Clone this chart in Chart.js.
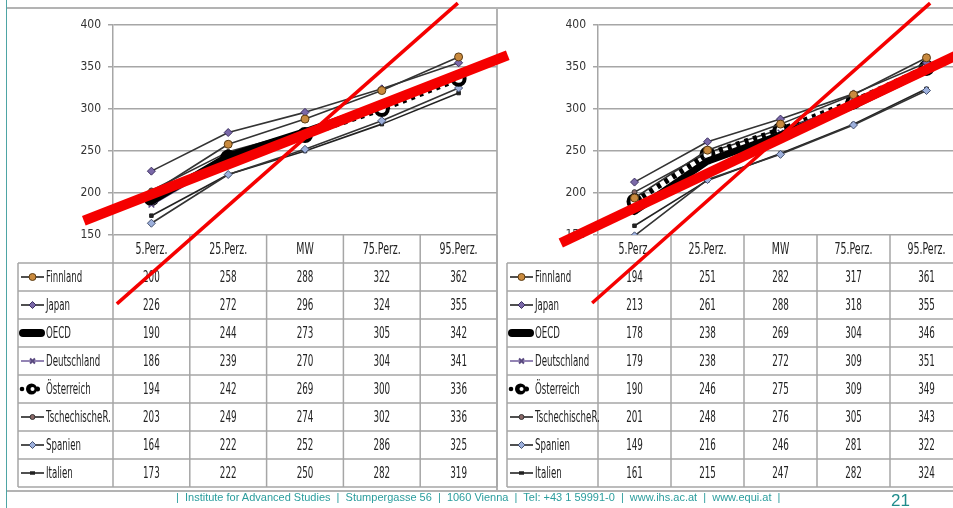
<!DOCTYPE html>
<html>
<head>
<meta charset="utf-8">
<script src="https://cdn.jsdelivr.net/npm/chart.js@4.4.1/dist/chart.umd.min.js"></script>
<style>
  html, body { margin: 0; padding: 0; background: #fff; overflow: hidden; }
  #page { position: relative; width: 953px; height: 508px; overflow: hidden; background: #fff; }
  canvas { position: absolute; top: 0; }
  #chartLeft { left: 0; z-index: 3; }
  #chartRight { left: 497px; z-index: 2; }
  .rule { position: absolute; background: #b3b3b3; z-index: 1; }
  #footer {
    position: absolute; left: 176px; top: 491px; z-index: 4;
    font: 11px "Liberation Sans Narrow", "Liberation Sans", Arial, sans-serif;
    color: #2a9d9d; white-space: pre;
  }
  #pageNo {
    position: absolute; left: 891px; top: 491px; z-index: 4;
    font: 17px "Liberation Sans", Arial, sans-serif; color: #1f8c8c;
  }
</style>
</head>
<body>
<div id="page">
  <div class="rule" style="left:7px;top:7px;width:946px;height:1.5px"></div>
  <div class="rule" style="left:6px;top:0;width:1px;height:508px;background:#4ea5a5"></div>
  <div class="rule" style="left:496px;top:7px;width:1.5px;height:485px"></div>
  <div class="rule" style="left:7px;top:490px;width:946px;height:1.5px"></div>
  <canvas id="chartLeft" width="520" height="508"></canvas>
  <canvas id="chartRight" width="480" height="508"></canvas>
  <div id="footer">|  Institute for Advanced Studies  |  Stumpergasse 56  |  1060 Vienna  |  Tel: +43 1 59991-0  |  www.ihs.ac.at  |  www.equi.at  |</div>
  <div id="pageNo">21</div>
</div>
<script>
// Categories and axis ticks
const categories = ['5.Perz.', '25.Perz.', 'MW', '75.Perz.', '95.Perz.'];
const yTicks = [150, 200, 250, 300, 350, 400];
const countries = ['Finnland', 'Japan', 'OECD', 'Deutschland', 'Österreich', 'TschechischeR.', 'Spanien', 'Italien'];

// Left panel scores
const finnlandA = [200, 258, 288, 322, 362];
const japanA = [226, 272, 296, 324, 355];
const oecdA = [190, 244, 273, 305, 342];
const deutschlandA = [186, 239, 270, 304, 341];
const oesterreichA = [194, 242, 269, 300, 336];
const tschechienA = [203, 249, 274, 302, 336];
const spanienA = [164, 222, 252, 286, 325];
const italienA = [173, 222, 250, 282, 319];

// Right panel scores
const finnlandB = [194, 251, 282, 317, 361];
const japanB = [213, 261, 288, 318, 355];
const oecdB = [178, 238, 269, 304, 346];
const deutschlandB = [179, 238, 272, 309, 351];
const oesterreichB = [190, 246, 275, 309, 349];
const tschechienB = [201, 248, 276, 305, 343];
const spanienB = [149, 216, 246, 281, 322];
const italienB = [161, 215, 247, 282, 324];

// Red trend strokes: [category position, score] at both ends
const trendSteepA = [[-0.45, 68], [3.99, 426]];
const trendFlatA = [[-0.88, 167], [4.64, 364]];
const trendSteepB = [[-0.58, 69], [4.05, 426]];
const trendFlatB = [[-1.01, 140.5], [4.6, 371.7]];

const FONT = '"Liberation Sans Narrow", "DejaVu Sans Condensed", "Liberation Sans", sans-serif';

const seriesStyle = [
  { line: '#333333', width: 1.6, point: 'circle', r: 4, fill: '#c98a3e', edge: '#5b3b12', edgeW: 1 },
  { line: '#333333', width: 1.6, point: 'diamond', r: 4, fill: '#7a68a8', edge: '#3b2f60', edgeW: 1 },
  { line: '#000000', width: 7, point: null, r: 0 },
  { line: '#6e5e94', width: 2, point: 'cross', r: 4, fill: '#6e5e94', edge: '#5a4a80', edgeW: 1.5 },
  { line: '#000000', width: 6, dash: [4, 5], point: 'circle', r: 6, fill: '#ffffff', edge: '#000000', edgeW: 4 },
  { line: '#333333', width: 1.6, point: 'circle', r: 2.5, fill: '#8a6868', edge: '#333333', edgeW: 1 },
  { line: '#333333', width: 1.6, point: 'diamond', r: 4, fill: '#9db0dc', edge: '#44506e', edgeW: 1 },
  { line: '#222222', width: 1.6, point: 'rect', r: 2.5, fill: '#222222', edge: '#222222', edgeW: 1 }
];

const chartPointStyle = { circle: 'circle', diamond: 'rectRot', cross: 'crossRot', rect: 'rect' };

// Condensed text: real canvas text, narrowed horizontally
function squeezedText(ctx, str, x, y, align, sx) {
  ctx.save();
  ctx.translate(x, y);
  ctx.scale(sx, 1);
  ctx.textAlign = align;
  ctx.textBaseline = 'middle';
  ctx.fillText(str, 0, 0);
  ctx.restore();
}

function drawMarker(ctx, style, cx, cy, r) {
  ctx.save();
  ctx.fillStyle = style.fill;
  ctx.strokeStyle = style.edge;
  ctx.lineWidth = style.edgeW || 1;
  ctx.beginPath();
  if (style.point === 'circle') {
    ctx.arc(cx, cy, r, 0, Math.PI * 2);
    ctx.fill(); ctx.stroke();
  } else if (style.point === 'diamond') {
    ctx.moveTo(cx, cy - r); ctx.lineTo(cx + r, cy); ctx.lineTo(cx, cy + r); ctx.lineTo(cx - r, cy); ctx.closePath();
    ctx.fill(); ctx.stroke();
  } else if (style.point === 'cross') {
    ctx.lineWidth = 2;
    ctx.moveTo(cx - r * 0.7, cy - r * 0.7); ctx.lineTo(cx + r * 0.7, cy + r * 0.7);
    ctx.moveTo(cx + r * 0.7, cy - r * 0.7); ctx.lineTo(cx - r * 0.7, cy + r * 0.7);
    ctx.stroke();
  } else if (style.point === 'rect') {
    ctx.rect(cx - r, cy - r * 0.7, r * 2, r * 1.4);
    ctx.fill();
  }
  ctx.restore();
}

function drawLegendKey(ctx, i, left, cy) {
  const s = seriesStyle[i];
  ctx.save();
  if (i === 2) {
    ctx.strokeStyle = '#000'; ctx.lineWidth = 8; ctx.lineCap = 'round';
    ctx.beginPath(); ctx.moveTo(left + 5, cy); ctx.lineTo(left + 23, cy); ctx.stroke();
  } else if (i === 4) {
    ctx.fillStyle = '#000';
    ctx.beginPath(); ctx.arc(left + 4, cy, 2.3, 0, Math.PI * 2); ctx.fill();
    ctx.beginPath(); ctx.arc(left + 13.5, cy, 5.5, 0, Math.PI * 2); ctx.fill();
    ctx.beginPath(); ctx.arc(left + 19.5, cy, 2.5, 0, Math.PI * 2); ctx.fill();
    ctx.fillStyle = '#fff';
    ctx.beginPath(); ctx.arc(left + 14.5, cy, 2, 0, Math.PI * 2); ctx.fill();
  } else {
    ctx.strokeStyle = i === 3 ? '#9384b4' : '#505050';
    ctx.lineWidth = 2;
    ctx.beginPath(); ctx.moveTo(left + 3, cy); ctx.lineTo(left + 26, cy); ctx.stroke();
    drawMarker(ctx, s, left + 14.5, cy, Math.min(s.r, 3.5));
  }
  ctx.restore();
}

// Data table under the plot: header row with categories, one row per country
const dataTablePlugin = {
  id: 'dataTable',
  afterDraw(chart, args, opts) {
    const { ctx, chartArea, scales: { x } } = chart;
    const rows = chart.data.datasets;
    const top = chartArea.bottom;
    const headH = 28, rowH = 28;
    const bottom = top + headH + rows.length * rowH;
    const legLeft = chartArea.left - opts.legendWidth;
    ctx.save();
    ctx.strokeStyle = '#a6a6a6';
    ctx.lineWidth = 1.5;
    ctx.beginPath();
    for (let r = 0; r <= rows.length; r++) {
      const yy = top + headH + r * rowH;
      ctx.moveTo(legLeft, yy); ctx.lineTo(chartArea.right, yy);
    }
    for (let c = 0; c <= categories.length; c++) {
      const xx = x.getPixelForValue(c - 0.5);
      ctx.moveTo(xx, top); ctx.lineTo(xx, bottom);
    }
    ctx.moveTo(legLeft, top + headH); ctx.lineTo(legLeft, bottom);
    ctx.stroke();

    ctx.fillStyle = '#222222';
    ctx.font = '15px ' + FONT;
    categories.forEach((cat, c) => {
      squeezedText(ctx, cat, x.getPixelForValue(c), top + headH / 2 + 1, 'center', 0.7);
    });
    rows.forEach((ds, r) => {
      const cy = top + headH + r * rowH + rowH / 2 + 1;
      ds.data.forEach((v, c) => squeezedText(ctx, String(v), x.getPixelForValue(c), cy, 'center', 0.65));
      drawLegendKey(ctx, r, legLeft, cy - 1);
      squeezedText(ctx, ds.label, legLeft + 28, cy, 'left', 0.64);
    });
    ctx.restore();
  }
};

// Red strokes across each panel, positioned through the chart scales
const trendPlugin = {
  id: 'trendLines',
  afterDraw(chart, args, opts) {
    const { ctx, scales: { x, y } } = chart;
    ctx.save();
    ctx.strokeStyle = '#f50000';
    ctx.lineCap = 'butt';
    opts.lines.forEach(t => {
      ctx.lineWidth = t.width;
      ctx.beginPath();
      ctx.moveTo(x.getPixelForValue(t.pts[0][0]), y.getPixelForValue(t.pts[0][1]));
      ctx.lineTo(x.getPixelForValue(t.pts[1][0]), y.getPixelForValue(t.pts[1][1]));
      ctx.stroke();
    });
    ctx.restore();
  }
};

function buildChart(canvasId, values, trends, legendWidth, padLeft, padRight) {
  const datasets = countries.map((name, i) => {
    const s = seriesStyle[i];
    return {
      label: name,
      data: values[i],
      borderColor: s.line,
      borderWidth: s.width,
      borderDash: s.dash || [],
      borderCapStyle: s.dash ? 'butt' : 'round',
      borderJoinStyle: 'round',
      pointStyle: s.point ? chartPointStyle[s.point] : false,
      pointRadius: s.r,
      pointBackgroundColor: s.fill,
      pointBorderColor: s.edge,
      pointBorderWidth: s.edgeW || 1,
      tension: 0,
      fill: false
    };
  });
  return new Chart(document.getElementById(canvasId), {
    type: 'line',
    data: { labels: categories, datasets },
    options: {
      responsive: false,
      animation: false,
      events: [],
      layout: { padding: { left: padLeft, right: padRight, top: 25, bottom: 273 } },
      plugins: {
        legend: { display: false },
        tooltip: { enabled: false },
        dataTable: { legendWidth },
        trendLines: { lines: trends }
      },
      scales: {
        x: { display: false, offset: true },
        y: {
          min: 150, max: 400,
          afterFit(scale) { scale.width = 40; },
          afterBuildTicks(scale) { scale.ticks = yTicks.map(v => ({ value: v })); },
          ticks: { color: '#333333', font: { family: FONT, size: 12 }, padding: 7 },
          grid: { color: '#a6a6a6', lineWidth: 1.5, tickLength: 5 },
          border: { color: '#a6a6a6', width: 1.5 }
        }
      }
    },
    plugins: [dataTablePlugin, trendPlugin]
  });
}

buildChart('chartLeft',
  [finnlandA, japanA, oecdA, deutschlandA, oesterreichA, tschechienA, spanienA, italienA],
  [{ pts: trendSteepA, width: 3.5 }, { pts: trendFlatA, width: 10 }],
  95, 73, 23);

buildChart('chartRight',
  [finnlandB, japanB, oecdB, deutschlandB, oesterreichB, tschechienB, spanienB, italienB],
  [{ pts: trendSteepB, width: 3.5 }, { pts: trendFlatB, width: 10 }],
  91, 61, 14);
</script>
</body>
</html>
